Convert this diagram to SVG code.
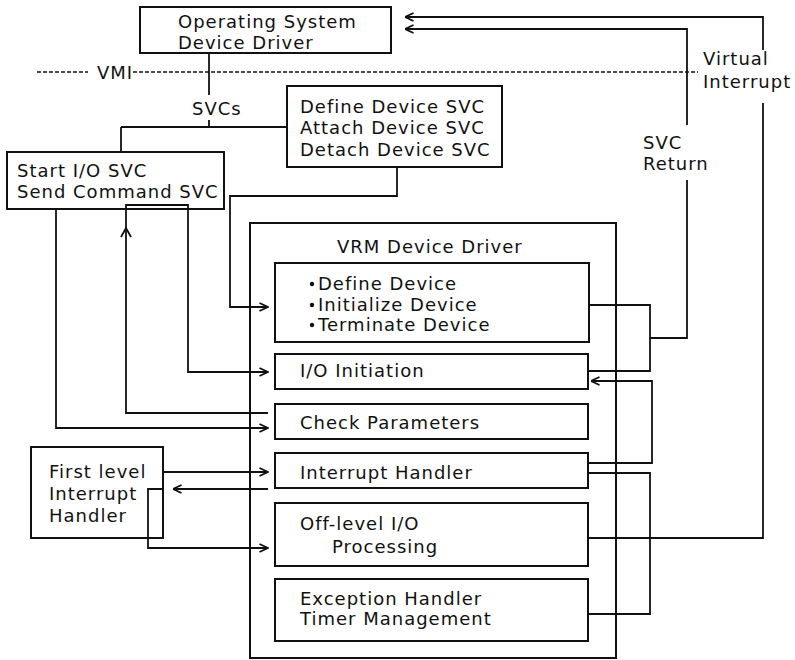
<svg xmlns="http://www.w3.org/2000/svg" width="795" height="660" viewBox="0 0 795 660">
  <style>
    .box { fill: #fff; stroke: #111; stroke-width: 2; }
    .lbl { font-family: "DejaVu Sans", "Liberation Sans", sans-serif; font-size: 18px; letter-spacing: 1px; fill: #111; }
    .wire { fill: none; stroke: #111; stroke-width: 1.8; }
    .arr { marker-end: url(#open); }
    .vmi { fill: none; stroke: #111; stroke-width: 1.4; stroke-dasharray: 4 2; }
  </style>
  <defs>
    <marker id="open" viewBox="0 0 10 10" refX="9.5" refY="5" markerWidth="10" markerHeight="10" markerUnits="userSpaceOnUse" orient="auto">
      <path d="M1,1 L9.5,5 L1,9" fill="none" stroke="#111" stroke-width="1.8"/>
    </marker>
  </defs>
  <rect width="795" height="660" fill="#fff"/>

  <!-- interface boundary -->
  <g id="vmi-line">
    <path class="vmi" d="M37,72 H88 M133,72 H698"/>
    <text class="lbl" x="97" y="79">VMI</text>
  </g>

  <g id="os-driver">
    <rect class="box" x="140" y="7" width="251" height="46"/>
    <text class="lbl" x="178" y="28">Operating System</text>
    <text class="lbl" x="178" y="49">Device Driver</text>
  </g>

  <g id="define-svcs">
    <rect class="box" x="287" y="86" width="215" height="81"/>
    <text class="lbl" x="300" y="113">Define Device SVC</text>
    <text class="lbl" x="300" y="134">Attach Device SVC</text>
    <text class="lbl" x="300" y="156">Detach Device SVC</text>
  </g>

  <g id="io-svcs">
    <rect class="box" x="7" y="152" width="217" height="57"/>
    <text class="lbl" x="17" y="177">Start I/O SVC</text>
    <text class="lbl" x="17" y="198">Send Command SVC</text>
  </g>

  <g id="vrm-driver">
    <rect class="box" x="250" y="223" width="366" height="435"/>
    <text class="lbl" x="337" y="253">VRM Device Driver</text>
  </g>

  <g id="device-ops">
    <rect class="box" x="275" y="263" width="314" height="79"/>
    <circle cx="312" cy="284" r="2.2" fill="#111"/>
    <circle cx="312" cy="305" r="2.2" fill="#111"/>
    <circle cx="312" cy="325" r="2.2" fill="#111"/>
    <text class="lbl" x="318" y="290">Define Device</text>
    <text class="lbl" x="318" y="311">Initialize Device</text>
    <text class="lbl" x="318" y="331">Terminate Device</text>
  </g>

  <g id="io-initiation">
    <rect class="box" x="275" y="354" width="313" height="35"/>
    <text class="lbl" x="300" y="377">I/O Initiation</text>
  </g>

  <g id="check-parameters">
    <rect class="box" x="275" y="404" width="313" height="35"/>
    <text class="lbl" x="300" y="429">Check Parameters</text>
  </g>

  <g id="interrupt-handler">
    <rect class="box" x="275" y="453" width="313" height="35"/>
    <text class="lbl" x="300" y="479">Interrupt Handler</text>
  </g>

  <g id="off-level">
    <rect class="box" x="275" y="503" width="313" height="63"/>
    <text class="lbl" x="300" y="530">Off-level I/O</text>
    <text class="lbl" x="332" y="553">Processing</text>
  </g>

  <g id="exception-timer">
    <rect class="box" x="275" y="579" width="313" height="62"/>
    <text class="lbl" x="300" y="605">Exception Handler</text>
    <text class="lbl" x="300" y="625">Timer Management</text>
  </g>

  <g id="first-level-ih">
    <rect class="box" x="31" y="447" width="132" height="91"/>
    <text class="lbl" x="49" y="478">First level</text>
    <text class="lbl" x="49" y="500">Interrupt</text>
    <text class="lbl" x="49" y="522">Handler</text>
  </g>

  <g id="connectors">
    <!-- SVC bus -->
    <path class="wire" d="M209,53 V95"/>
    <path class="wire" d="M209,120 V127 M121,127 H287 M121,127 V152"/>
    <text class="lbl" x="192" y="115">SVCs</text>

    <!-- define/attach/detach into device ops -->
    <path class="wire arr" d="M397,167 V196 H230 V307 H268"/>
    <!-- start I/O into check parameters -->
    <path class="wire arr" d="M56,209 V428 H268"/>
    <!-- check parameters back up, then into I/O initiation -->
    <path class="wire arr" d="M268,413 H126 V205 H188 V372 H268"/>
    <path class="wire" d="M121,237 L126,228 L131,237"/>

    <!-- first level interrupt handler links -->
    <path class="wire arr" d="M163,472 H268"/>
    <path class="wire arr" d="M268,489 H173"/>
    <path class="wire arr" d="M163,489 H148 V548 H268"/>

    <!-- right side returns -->
    <path class="wire" d="M589,305 H650 V371 H588"/>
    <path class="wire" d="M650,338 H687 V180"/>
    <path class="wire arr" d="M687,125 V29 H405"/>
    <text class="lbl" x="643" y="149">SVC</text>
    <text class="lbl" x="643" y="170">Return</text>

    <path class="wire" d="M588,538 H763 V103"/>
    <path class="wire arr" d="M763,50 V17 H405"/>
    <text class="lbl" x="703" y="65">Virtual</text>
    <text class="lbl" x="703" y="88">Interrupt</text>

    <path class="wire arr" d="M589,463 H652 V381 H591"/>
    <path class="wire" d="M588,473 H650 V614 H588"/>
  </g>
</svg>
